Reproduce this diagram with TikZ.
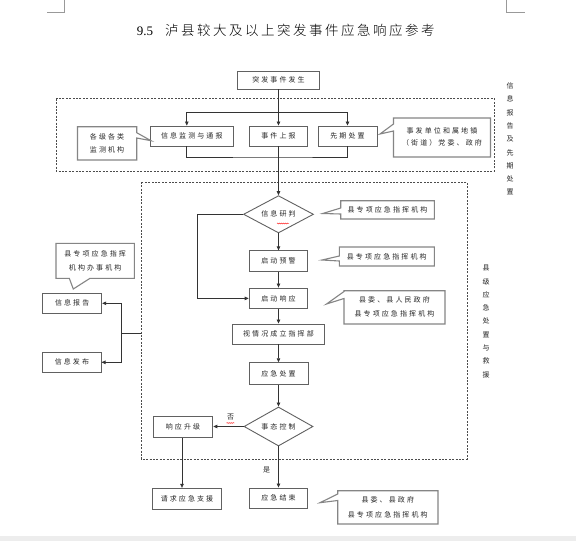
\documentclass[tikz,border=0pt]{standalone}
\usepackage{fontspec}
\setmainfont{Liberation Serif}
\newfontfamily\cjk[LetterSpace=30]{Noto Sans CJK SC}
\newfontfamily\cjkplain{Noto Sans CJK SC}
\newfontfamily\cjktitle{Noto Sans CJK SC Light}
\newcommand\tk{\kern2.5pt}
\usetikzlibrary{arrows.meta,shapes.geometric,decorations.pathmorphing}
\begin{document}
\begin{tikzpicture}[x=1pt,y=-1pt,
  box/.style={draw=black!62, line width=0.9pt, fill=white, inner sep=0pt,
    font=\cjk\fontsize{7}{8}\selectfont, text=black!85},
  dia/.style={diamond, aspect=2, draw=black!62, line width=0.9pt, fill=white, inner sep=0pt,
    font=\cjk\fontsize{7}{8}\selectfont, text=black!85},
  callout/.style={draw=black!48, line width=1.1pt, fill=white, line join=miter},
  ctext/.style={font=\cjk\fontsize{7}{13.5}\selectfont, align=center, text=black!85, inner sep=0pt},
  vtext/.style={font=\cjkplain\fontsize{7}{13.3}\selectfont, align=center, text=black!85, inner sep=0pt},
  conn/.style={draw=black!80, line width=0.7pt},
  arr/.style={conn, -{Triangle[length=4pt,width=3.5pt]}},
  dbox/.style={draw=black!70, line width=0.7pt, dash pattern=on 2pt off 1.4pt},
  lbl/.style={font=\cjkplain\fontsize{7}{8}\selectfont, text=black!85, inner sep=0pt},
  squig/.style={red, line width=0.4pt, decorate, decoration={snake,amplitude=0.5pt,segment length=2pt}},
  cornermark/.style={draw=black!40, line width=0.6pt}
]
\useasboundingbox (0,0) rectangle (576,541);
\fill[white] (0,0) rectangle (576,541);
\fill[black!7] (0,536) rectangle (576,541);

% page corner marks
\draw[cornermark] (64,0) -- (64,12.3) -- (47,12.3);
\draw[cornermark] (506,0) -- (506,12.3) -- (525,12.3);

% title
\node[inner sep=0pt, anchor=west] (title) at (136.7,30) {{\fontsize{13}{15}\selectfont 9.5}\hspace{12pt}{\cjktitle\fontsize{13.5}{15}\selectfont 泸\tk 县\tk 较\tk 大\tk 及\tk 以\tk 上\tk 突\tk 发\tk 事\tk 件\tk 应\tk 急\tk 响\tk 应\tk 参\tk 考}};

% dashed regions
\draw[dbox] (56,98.7) rectangle (494.5,171);
\draw[dbox] (141,182) rectangle (467,459);

% vertical side texts
\node[vtext] (vt1) at (510,139) {信\\息\\报\\告\\及\\先\\期\\处\\置};
\node[vtext] (vt2) at (486,321.5) {县\\级\\应\\急\\处\\置\\与\\救\\援};

% main boxes
\node[box, minimum width=82pt, minimum height=18pt] (top) at (278.5,80) {突发事件发生};
\node[box, minimum width=82.4pt, minimum height=20pt] (mon) at (191.8,136) {信息监测与通报};
\node[box, minimum width=58pt, minimum height=20pt] (rpt) at (278.5,136) {事件上报};
\node[box, minimum width=59pt, minimum height=20pt] (first) at (347.5,136) {先期处置};
\node[dia, minimum width=70pt, minimum height=37.3pt] (judge) at (278.5,214.3) {信息研判};
\node[box, minimum width=58.7pt, minimum height=20.3pt] (warn) at (278.5,261) {启动预警};
\node[box, minimum width=58.7pt, minimum height=20.7pt] (resp) at (278.5,298.4) {启动响应};
\node[box, minimum width=92.7pt, minimum height=20pt] (hq) at (278.5,334) {视情况成立指挥部};
\node[box, minimum width=59pt, minimum height=22pt] (deal) at (278.5,373.7) {应急处置};
\node[dia, minimum width=69pt, minimum height=39pt] (ctrl) at (278.5,426.5) {事态控制};
\node[box, minimum width=59.7pt, minimum height=21pt] (up) at (183,427.2) {响应升级};
\node[box, minimum width=69.7pt, minimum height=21pt] (help) at (187,498.8) {请求应急支援};
\node[box, minimum width=58.7pt, minimum height=20pt] (fin) at (278.5,498) {应急结束};
\node[box, minimum width=59pt, minimum height=20pt] (rep) at (72.2,303.3) {信息报告};
\node[box, minimum width=58.3pt, minimum height=20pt] (pub) at (71.9,362.3) {信息发布};

% callouts
\draw[callout] (77.5,126.7) -- (136.7,126.7) -- (136.7,132.7) -- (151,140.7) -- (136.7,138) -- (136.7,160) -- (77.5,160) -- cycle;
\node[ctext] (cA) at (107.1,143.4) {各级各类\\监测机构};

\draw[callout] (393.5,118) -- (490.5,118) -- (490.5,157) -- (393.5,157) -- (393.5,131) -- (380,134) -- (393.5,124) -- cycle;
\node[ctext, font=\cjk\fontsize{7}{12}\selectfont] (cB) at (442,137) {事发单位和属地镇\\（街道）党委、政府};

\draw[callout] (340.7,200.7) -- (434.3,200.7) -- (434.3,219) -- (340.7,219) -- (340.7,214) -- (322.7,213.5) -- (340.7,208) -- cycle;
\node[ctext] (cC) at (387.5,210) {县专项应急指挥机构};

\draw[callout] (339.3,247) -- (434.3,247) -- (434.3,266) -- (339.3,266) -- (339.3,261) -- (322,260) -- (339.3,256) -- cycle;
\node[ctext] (cD) at (386.8,256.5) {县专项应急指挥机构};

\draw[callout] (344,290.7) -- (445,290.7) -- (445,324) -- (344,324) -- (344,298.5) -- (326.5,304) -- (344,291.5) -- cycle;
\node[ctext, font=\cjk\fontsize{7}{14}\selectfont] (cE) at (394.5,307.3) {县委、县人民政府\\县专项应急指挥机构};

\draw[callout] (56,243.3) -- (134.3,243.3) -- (134.3,278.3) -- (90,278.3) -- (73.3,289) -- (69.3,278.3) -- (56,278.3) -- cycle;
\node[ctext] (cF) at (95.2,260.8) {县专项应急指挥\\机构办事机构};

\draw[callout] (337.7,490.7) -- (438,490.7) -- (438,524) -- (337.7,524) -- (337.7,500.5) -- (320,502.7) -- (337.7,494) -- cycle;
\node[ctext, font=\cjk\fontsize{7}{14.5}\selectfont] (cG) at (387.8,507.3) {县委、县政府\\县专项应急指挥机构};

% connectors
\coordinate (b1) at (278.5,112);
\coordinate (b2) at (278.5,157);
\draw[arr] (top.south) -- (rpt.north);
\draw[arr] (b1) -| ([xshift=-5pt]mon.north);
\draw[arr] (b1) -| (first.north);
\draw[conn] ([xshift=-5pt]mon.south) |- (b2) -| (first.south);
\draw[arr] (rpt.south) -- (judge.north);
\draw[arr] (judge.south) -- (warn.north);
\draw[arr] (warn.south) -- (resp.north);
\coordinate (lp) at (197.7,214.3);
\draw[arr] (judge.west) -- (lp) |- (resp.west);
\draw[arr] (resp.south) -- (hq.north);
\draw[arr] (hq.south) -- (deal.north);
\draw[arr] (deal.south) -- (ctrl.north);
\draw[arr] (ctrl.west) -- (ctrl.west -| up.east);
\node[lbl] (no) at (230.5,417.5) {否};
\draw[arr] ([xshift=-1pt]up.south) -- ([xshift=-1pt]up.south |- help.north);
\draw[arr] (ctrl.south) -- (fin.north);
\node[lbl] (yes) at (266.7,470) {是};
\coordinate (ib) at (141,333.3);
\coordinate (jn) at (121.7,333.3);
\draw[conn] (ib) -- (jn);
\draw[arr] (jn) |- (rep.east);
\draw[arr] (jn) |- (pub.east);

% spell-check underlines
\draw[squig] (277,223.5) -- (289,223.5);
\draw[squig] (226.5,423) -- (234.5,423);
\end{tikzpicture}
\end{document}
